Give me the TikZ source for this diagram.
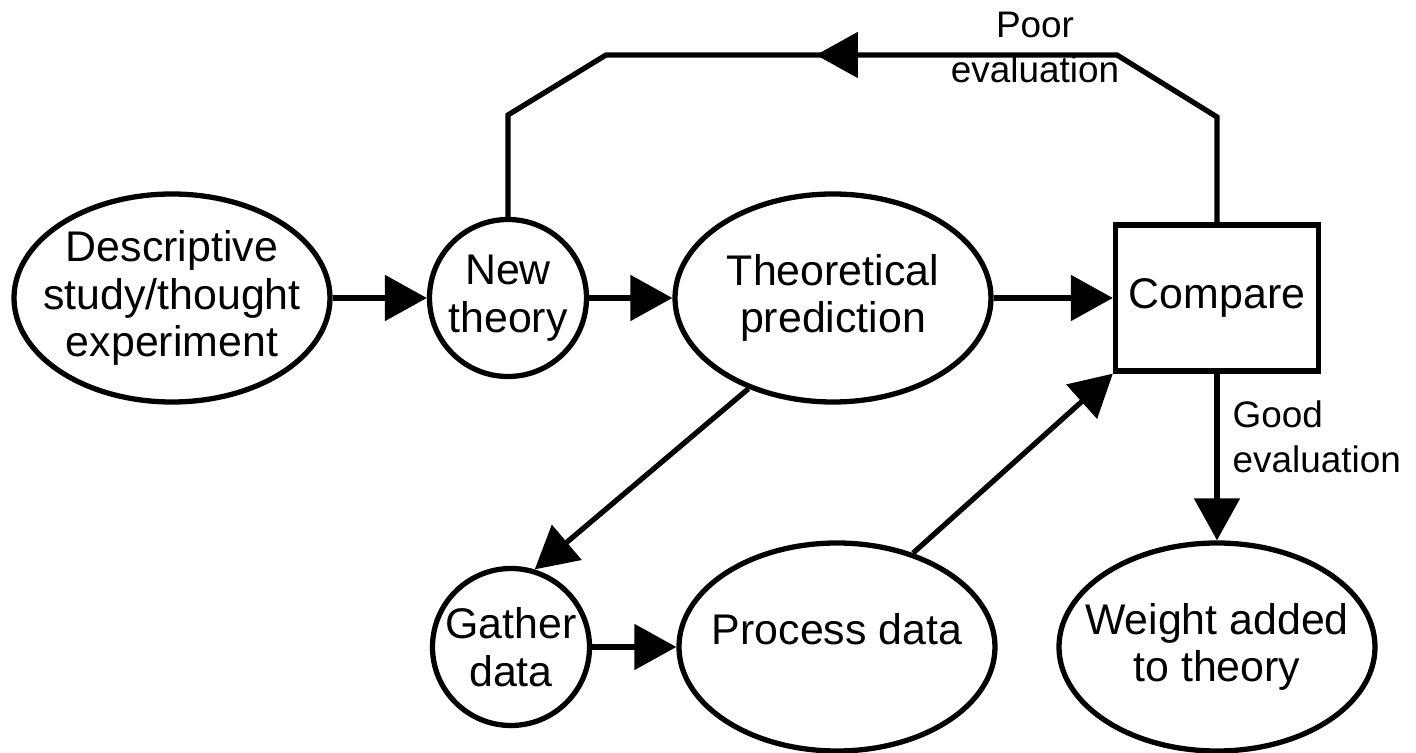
\documentclass[tikz,border=0pt]{standalone}
\usepackage{fontspec}
\setmainfont{Liberation Sans}
\usetikzlibrary{shapes.geometric, arrows.meta, decorations.markings}

\newcommand{\nodefont}{\fontsize{12.2}{13.6}\selectfont}
\newcommand{\lblfont}{\fontsize{10.5}{12.8}\selectfont}

\tikzset{
  conn/.style={line width=1.5pt},
  arr/.style={conn, -{Triangle[length=4.2mm, width=4.5mm]}},
  oval/.style={draw, ellipse, line width=1.5pt, inner sep=0pt, minimum width=3.16cm, minimum height=2.08cm},
  disc/.style={draw, circle, line width=1.5pt, inner sep=0pt, minimum size=1.57cm},
  sq/.style={draw, rectangle, line width=1.5pt, inner sep=0pt, minimum width=2.03cm, minimum height=1.46cm},
  txt/.style={align=center, font=\nodefont, inner sep=0pt},
  lbl/.style={font=\lblfont, inner sep=0pt},
}

\begin{document}
\begin{tikzpicture}
\useasboundingbox (0,0) rectangle (14.16,7.53);

% top row
\node[oval, label={[txt]center:{Descriptive\\study/thought\\experiment}}] (cDesc) at (1.72,4.55) {};
\node[disc, label={[txt]center:{New\\theory}}] (cNew) at (5.08,4.55) {};
\node[oval, label={[txt]center:{Theoretical\\prediction}}] (cTheo) at (8.33,4.55) {};
\node[sq, label={[txt]center:Compare}] (cComp) at (12.17,4.55) {};

% bottom row
\node[disc, label={[txt]center:{Gather\\data}}] (cGather) at (5.11,1.06) {};
\node[oval, label={[txt, yshift=0.18cm]center:Process data}] (cProc) at (8.37,1.06) {};
\node[oval, label={[txt]center:{Weight added\\to theory}}] (cWeight) at (12.17,1.06) {};

\draw[arr] (cDesc) -- (cNew);
\draw[arr] (cNew) -- (cTheo);
\draw[arr] (cTheo) -- (cComp);
\draw[arr] (cTheo.227) -- (cGather.73);
\draw[arr] (cGather) -- (cProc);
\draw[arr] (cProc.51) -- (cComp.south west);
\draw[arr] (cComp) -- (cWeight);

% poor evaluation loop back to the theory
\coordinate (cR1) at (12.17,6.36);
\coordinate (cR2) at (11.17,6.98);
\coordinate (cL2) at (6.06,6.98);
\coordinate (cL1) at (5.08,6.38);
\draw[conn, postaction={decorate},
  decoration={markings, mark=at position 5.24cm with {\arrow{Triangle[length=4.2mm, width=4.5mm]}}}]
  (cComp.north) -- (cR1) -- (cR2) -- (cL2) -- (cL1) -- (cNew.north);

\node[lbl, align=center] (cPoor) at (10.35,7.055) {Poor\\evaluation};
\node[lbl, align=left, anchor=west] (cGood) at (12.32,3.165) {Good\\evaluation};

\end{tikzpicture}
\end{document}
